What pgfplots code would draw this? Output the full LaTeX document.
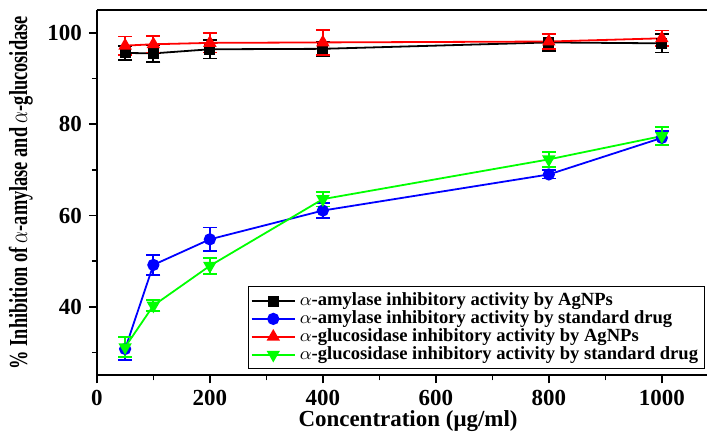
\documentclass[border=0pt]{standalone}
\usepackage{pgfplots}
\pgfplotsset{compat=1.18}
\usepackage{fontspec}
\setmainfont{Liberation Serif}
\begin{document}
\begin{tikzpicture}
\begin{axis}[
    name=main,
    scale only axis,
    width=305.5pt, height=183pt,
    xmin=0, xmax=1080, ymin=25, ymax=105,
    axis x line*=box, axis y line*=left,
    hide obscured x ticks=false, hide obscured y ticks=false,
    axis line style={line width=1pt},
    xtick={0,200,...,1000}, minor xtick={100,300,...,900},
    ytick={40,60,80,100}, minor ytick={30,50,70,90},
    tick align=outside, tick pos=left,
    major tick length=4pt, minor tick length=2.5pt,
    tick style={line width=0.8pt, black},
    /pgf/number format/assume math mode=true,
    /pgf/number format/1000 sep={},
    ticklabel style={font=\fontsize{11.5}{12}\selectfont\bfseries},
    xlabel={\bfseries Concentration (μg/ml)},
    ylabel={\scalebox{0.92}[1.3]{\bfseries \% Inhibition of $\alpha$-amylase and $\alpha$-glucosidase}},
    label style={font=\fontsize{10}{10}\selectfont},
    xlabel style={font=\fontsize{11.5}{11.5}\selectfont, at={(axis description cs:0.51,0)}, anchor=center, yshift=-23pt},
    ylabel style={at={(axis description cs:0,0.5)}, anchor=center, yshift=38pt},
    clip=false,
    every axis plot/.append style={line width=0.9pt},
    error bars/error bar style={line width=0.9pt},
    error bars/error mark options={rotate=90, mark size=3.5pt, line width=0.9pt},
    legend style={at={(1,0)}, anchor=south east, xshift=-1pt, yshift=3pt,
        draw=black, line width=0.5pt, font=\fontsize{9.3}{9.3}\selectfont\bfseries,
        row sep=-3pt, inner sep=1.2pt},
    legend cell align=left,
    legend image code/.code={
        \draw[mark repeat=2,mark phase=2] plot coordinates {(0cm,0cm) (0.38cm,0cm) (0.76cm,0cm)};
    },
]
\addplot[black, mark=square*, mark size=2.3pt, error bars/.cd, y dir=both, y explicit]
coordinates {
(50,95.6) +- (0,1.5)
(100,95.5) +- (0,1.8)
(200,96.4) +- (0,2.0)
(400,96.5) +- (0,1.5)
(800,97.9) +- (0,1.8)
(1000,97.7) +- (0,2.0)
};
\addlegendentry{$\alpha$-amylase inhibitory activity by AgNPs}
\addplot[blue, mark=*, mark size=2.6pt, error bars/.cd, y dir=both, y explicit]
coordinates {
(50,30.8) +- (0,2.5)
(100,49.2) +- (0,2.2)
(200,54.8) +- (0,2.6)
(400,61.1) +- (0,1.6)
(800,69.0) +- (0,0.9)
(1000,77.0) +- (0,1.5)
};
\addlegendentry{$\alpha$-amylase inhibitory activity by standard drug}
\addplot[red, mark=triangle*, mark size=3pt, error bars/.cd, y dir=both, y explicit]
coordinates {
(50,97.2) +- (0,2.0)
(100,97.5) +- (0,1.8)
(200,97.8) +- (0,2.1)
(400,97.9) +- (0,2.7)
(800,98.1) +- (0,1.6)
(1000,98.8) +- (0,1.7)
};
\addlegendentry{$\alpha$-glucosidase inhibitory activity by AgNPs}
\addplot[green, mark=triangle*, mark options={rotate=180}, mark size=3pt, error bars/.cd, y dir=both, y explicit]
coordinates {
(50,31.2) +- (0,2.2)
(100,40.3) +- (0,1.2)
(200,49.0) +- (0,1.8)
(400,63.6) +- (0,1.6)
(800,72.3) +- (0,1.6)
(1000,77.4) +- (0,2.0)
};
\addlegendentry{$\alpha$-glucosidase inhibitory activity by standard drug}
\end{axis}
\path (main.south west) ++(-48.5pt,-28pt);
\path (main.north east) ++(0,5pt);
\end{tikzpicture}
\end{document}
